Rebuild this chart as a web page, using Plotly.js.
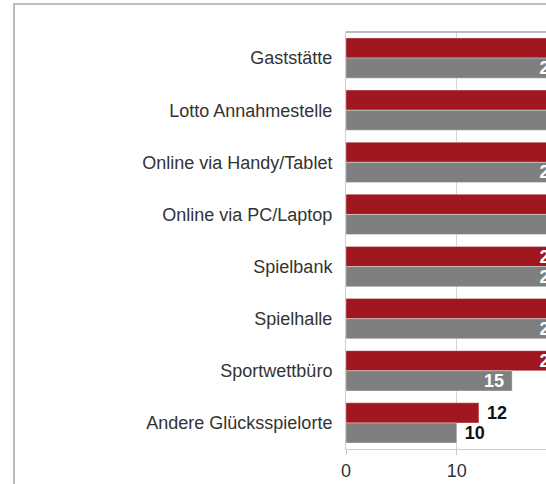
<!DOCTYPE html>
<html>
<head>
<meta charset="utf-8">
<script src="https://cdn.plot.ly/plotly-3.0.1.min.js"></script>
<style>
html, body { margin: 0; padding: 0; background: #fff; overflow: hidden; width: 546px; height: 484px; }
#frame { position: absolute; left: 13px; top: 3px; border-left: 2px solid #bdbdbd; border-top: 2px solid #bdbdbd; }
</style>
</head>
<body>
<div id="frame"><div id="chart"></div></div>
<script>
// Data (values beyond the cropped edge are estimates)
var categories = ['Gaststätte', 'Lotto Annahmestelle', 'Online via Handy/Tablet', 'Online via PC/Laptop',
                  'Spielbank', 'Spielhalle', 'Sportwettbüro', 'Andere Glücksspielorte'];
var seriesRed  = [25, 31, 29, 30, 20, 27, 20, 12];
var seriesGray = [20, 24, 20, 23, 20, 20, 15, 10];
var labelPosRed  = ['inside', 'inside', 'inside', 'inside', 'inside', 'inside', 'inside', 'outside'];
var labelPosGray = ['inside', 'inside', 'inside', 'inside', 'inside', 'inside', 'inside', 'outside'];
var xTickVals = [0, 10, 20, 30, 40];
var xTickText = ['0', '10', '20', '30', '40'];

function tmpl(pos) {
  return pos.map(function (p) { return p === 'inside' ? '%{x}\u00a0' : '\u00a0%{x}'; });
}

var lineStyle = { color: 'rgba(255,255,255,0.35)', width: 1 };

var traces = [
  {
    type: 'bar', orientation: 'h', name: 'A',
    y: categories, x: seriesRed,
    marker: { color: '#a1171f', line: lineStyle },
    texttemplate: tmpl(labelPosRed), textposition: labelPosRed,
    insidetextanchor: 'end', constraintext: 'none', cliponaxis: false,
    insidetextfont: { family: 'Liberation Sans, Arial, sans-serif', size: 18, color: '#ffffff', weight: 'bold' },
    outsidetextfont: { family: 'Liberation Sans, Arial, sans-serif', size: 18, color: '#111111', weight: 'bold' },
    hoverinfo: 'none'
  },
  {
    type: 'bar', orientation: 'h', name: 'B',
    y: categories, x: seriesGray,
    marker: { color: '#7f7f7f', line: lineStyle },
    texttemplate: tmpl(labelPosGray), textposition: labelPosGray,
    insidetextanchor: 'end', constraintext: 'none', cliponaxis: false,
    insidetextfont: { family: 'Liberation Sans, Arial, sans-serif', size: 18, color: '#ffffff', weight: 'bold' },
    outsidetextfont: { family: 'Liberation Sans, Arial, sans-serif', size: 18, color: '#111111', weight: 'bold' },
    hoverinfo: 'none'
  }
];

var layout = {
  width: 794, height: 479,
  margin: { l: 331, r: 20, t: 27, b: 35 },
  paper_bgcolor: '#ffffff', plot_bgcolor: '#ffffff',
  showlegend: false,
  barmode: 'group', bargap: 0.228, bargroupgap: 0,
  font: { family: 'Liberation Sans, Arial, sans-serif', size: 18, color: '#333333' },
  xaxis: {
    range: [0, 40], tickvals: xTickVals, ticktext: xTickText,
    showgrid: true, gridcolor: '#d4d4d4', gridwidth: 1,
    zeroline: false, showline: true, linecolor: '#cccccc', linewidth: 1,
    ticks: 'outside', ticklen: 5, tickcolor: '#cccccc',
    tickfont: { size: 18, color: '#333333' }
  },
  yaxis: {
    autorange: 'reversed', type: 'category',
    showgrid: false, zeroline: false, showline: true, linecolor: '#cccccc', linewidth: 1,
    ticks: '', ticklabelstandoff: 9,
    tickfont: { size: 18, color: '#333333' }
  },
  shapes: [
    { type: 'line', xref: 'paper', yref: 'paper', x0: 0, x1: 1, y0: 1, y1: 1,
      line: { color: '#a6a6a6', width: 1.5 } }
  ]
};

Plotly.newPlot('chart', traces, layout, { displayModeBar: false, staticPlot: true });
</script>
</body>
</html>
